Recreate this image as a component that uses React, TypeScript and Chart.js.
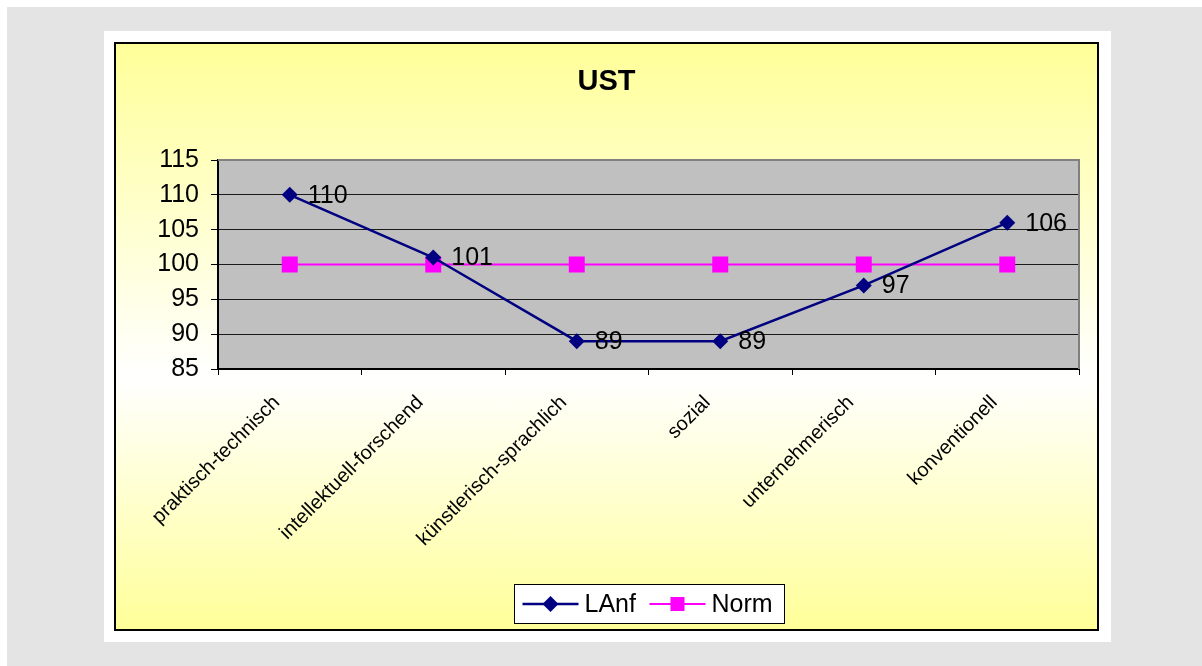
import React, { useEffect, useRef } from "react";
import { Chart, registerables } from "chart.js";

Chart.register(...registerables);

const categories = [
  "praktisch-technisch",
  "intellektuell-forschend",
  "künstlerisch-sprachlich",
  "sozial",
  "unternehmerisch",
  "konventionell",
];
const lanfValues = [110, 101, 89, 89, 97, 106];
const normValues = [100, 100, 100, 100, 100, 100];
const titleText = "UST";
const seriesNames = ["LAnf", "Norm"];
const yMin = 85;
const yMax = 115;
const yStep = 5;

const FONT = "'Liberation Sans', Arial, sans-serif";
const NAVY = "#000080";
const MAGENTA = "#ff00ff";

const decorPlugin = {
  id: "decor",
  beforeDraw(chart: any) {
    const { ctx, chartArea: a } = chart;
    ctx.save();
    ctx.fillStyle = "#c0c0c0";
    ctx.fillRect(a.left, a.top, a.right - a.left, a.bottom - a.top);
    ctx.restore();
  },
  beforeDatasetsDraw(chart: any) {
    const { ctx, chartArea: a } = chart;
    ctx.save();
    ctx.strokeStyle = "#808080";
    ctx.lineWidth = 2;
    ctx.beginPath();
    ctx.moveTo(a.left, a.top);
    ctx.lineTo(a.right, a.top);
    ctx.lineTo(a.right, a.bottom);
    ctx.stroke();
    ctx.restore();
  },
  afterDatasetsDraw(chart: any) {
    const { ctx, chartArea: a, width } = chart;
    ctx.save();
    // data labels for LAnf
    const meta = chart.getDatasetMeta(0);
    ctx.font = `25px ${FONT}`;
    ctx.fillStyle = "#000";
    ctx.textAlign = "left";
    ctx.textBaseline = "middle";
    meta.data.forEach((pt: any, i: number) => {
      ctx.fillText(String(lanfValues[i]), pt.x + 18, pt.y + 1);
    });
    // title
    ctx.font = `bold 29px ${FONT}`;
    ctx.textAlign = "center";
    ctx.textBaseline = "alphabetic";
    ctx.fillText(titleText, width / 2, 46);
    // legend
    const cx = (a.left + a.right) / 2;
    const boxW = 270;
    const boxH = 39;
    const bx = Math.round(cx - boxW / 2) + 0.5;
    const by = 540.5;
    ctx.fillStyle = "#fff";
    ctx.fillRect(bx, by, boxW, boxH);
    ctx.strokeStyle = "#000";
    ctx.lineWidth = 1;
    ctx.strokeRect(bx, by, boxW, boxH);
    const cy = by + boxH / 2;
    const items = [
      { name: seriesNames[0], color: NAVY, style: "diamond", x: bx + 8, lw: 2.5 },
      { name: seriesNames[1], color: MAGENTA, style: "square", x: bx + 135, lw: 2 },
    ];
    ctx.font = `25px ${FONT}`;
    ctx.textAlign = "left";
    ctx.textBaseline = "middle";
    items.forEach((it) => {
      ctx.strokeStyle = it.color;
      ctx.lineWidth = it.lw;
      ctx.beginPath();
      ctx.moveTo(it.x, cy);
      ctx.lineTo(it.x + 56, cy);
      ctx.stroke();
      ctx.fillStyle = it.color;
      const mx = it.x + 28;
      if (it.style === "diamond") {
        ctx.beginPath();
        ctx.moveTo(mx, cy - 8);
        ctx.lineTo(mx + 8, cy);
        ctx.lineTo(mx, cy + 8);
        ctx.lineTo(mx - 8, cy);
        ctx.closePath();
        ctx.fill();
      } else {
        ctx.fillRect(mx - 7, cy - 7, 14, 14);
      }
      ctx.fillStyle = "#000";
      ctx.fillText(it.name, it.x + 62, cy + 1);
    });
    ctx.restore();
  },
};

export default function App() {
  const ref = useRef<HTMLCanvasElement | null>(null);
  useEffect(() => {
    if (!ref.current) return;
    const chart = new Chart(ref.current, {
      type: "line",
      data: {
        labels: categories,
        datasets: [
          {
            label: seriesNames[0],
            data: lanfValues,
            borderColor: NAVY,
            backgroundColor: NAVY,
            borderWidth: 2.5,
            pointStyle: "rectRot",
            pointRadius: 8,
            pointHoverRadius: 8,
            pointBorderWidth: 0,
            tension: 0,
            order: 0,
          },
          {
            label: seriesNames[1],
            data: normValues,
            borderColor: MAGENTA,
            backgroundColor: MAGENTA,
            borderWidth: 2,
            pointStyle: "rect",
            pointRadius: 11.3,
            pointHoverRadius: 11.3,
            pointBorderWidth: 0,
            tension: 0,
            order: 1,
          },
        ],
      },
      options: {
        animation: false,
        responsive: false,
        maintainAspectRatio: false,
        events: [],
        layout: { padding: { top: 116, left: 0, right: 18, bottom: 0 } },
        plugins: {
          legend: { display: false },
          title: { display: false },
          tooltip: { enabled: false },
        },
        scales: {
          x: {
            type: "category",
            offset: true,
            grid: {
              offset: true,
              drawOnChartArea: false,
              drawTicks: true,
              tickLength: 6,
              color: "#000",
            },
            border: { color: "#000", width: 2 },
            ticks: {
              minRotation: 45,
              maxRotation: 45,
              autoSkip: false,
              color: "#000",
              padding: 16,
              labelOffset: -13,
              font: { family: FONT, size: 20 },
            },
            afterFit(scale: any) {
              scale.height = 260;
            },
          },
          y: {
            min: yMin,
            max: yMax,
            ticks: {
              stepSize: yStep,
              color: "#000",
              padding: 12,
              font: { family: FONT, size: 25 },
            },
            grid: {
              color: "#1a1a1a",
              lineWidth: 1,
              drawTicks: true,
              tickLength: 7,
              tickColor: "#000",
            },
            border: { color: "#000", width: 2 },
            afterFit(scale: any) {
              scale.width = 102;
            },
          },
        },
      },
      plugins: [decorPlugin],
    } as any);
    return () => chart.destroy();
  }, []);

  return (
    <div style={{ position: "fixed", left: 0, top: 0, width: 1202, height: 666, background: "#fff" }}>
      <div style={{ position: "absolute", left: 7, top: 7, right: 0, bottom: 0, background: "#e4e4e4" }} />
      <div style={{ position: "absolute", left: 104, top: 31, width: 1007, height: 611, background: "#fff" }} />
      <div
        style={{
          position: "absolute",
          left: 114,
          top: 42,
          width: 985,
          height: 589,
          boxSizing: "border-box",
          border: "2px solid #000",
          background: "linear-gradient(to bottom, #ffff99 0%, #ffffff 57%, #ffff99 100%)",
        }}
      >
        <canvas ref={ref} width={981} height={585} style={{ display: "block", width: 981, height: 585 }} />
      </div>
    </div>
  );
}
